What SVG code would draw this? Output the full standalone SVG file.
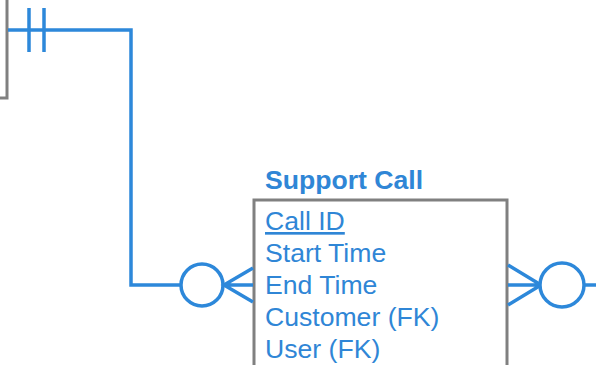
<svg xmlns="http://www.w3.org/2000/svg" width="596" height="365" viewBox="0 0 596 365">
<style>
.ent{fill:#fff;stroke:#808080;stroke-width:3}
.c{fill:none;stroke:#2D88DA;stroke-width:3.5}
.o{fill:#fff;stroke:#2D88DA;stroke-width:3.5}
.t{font-family:"Liberation Sans",Arial,sans-serif;font-size:26.6px;fill:#2F86D6}
.h{font-weight:bold}
</style>
<rect width="596" height="365" fill="#fff"/>
<g id="entity-left">
<rect class="ent" x="-20" y="-20" width="27" height="118"/>
</g>
<g id="entity-support-call">
<text class="t h" x="265" y="189">Support Call</text>
<rect class="ent" x="254" y="200" width="253" height="180"/>
<text class="t" x="265" y="230" text-decoration="underline">Call ID</text>
<text class="t" x="265" y="262">Start Time</text>
<text class="t" x="265" y="294">End Time</text>
<text class="t" x="265" y="326">Customer (FK)</text>
<text class="t" x="265" y="358">User (FK)</text>
</g>
<g id="connectors">
<path class="c" d="M8 30 H131 V285 H181"/>
<path class="c" d="M29 8 V52 M44 8 V52"/>
<circle class="o" cx="202" cy="285" r="21"/>
<path class="c" d="M253 268 L224 285 L253 302 M224 285 H253"/>
<path class="c" d="M508 265 L541 285 L508 305 M508 285 H541"/>
<circle class="o" cx="562" cy="285" r="22"/>
<path class="c" d="M584 285 H596"/>
</g>
</svg>
